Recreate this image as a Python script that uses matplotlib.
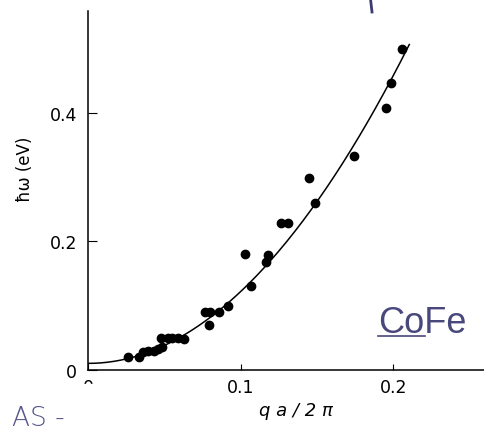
import matplotlib as mpl
import matplotlib.pyplot as plt
from matplotlib.lines import Line2D
from matplotlib.patches import Rectangle
import numpy as np

mpl.use('Agg')

# measured spin-wave points (qa/2pi, hbar omega in eV)
q_points = [0.026, 0.033, 0.036, 0.039, 0.043, 0.046, 0.0485, 0.048, 0.052,
            0.055, 0.059, 0.063, 0.0765, 0.080, 0.079, 0.0857, 0.0918,
            0.1028, 0.1065, 0.1163, 0.1177, 0.1264, 0.1312, 0.1449, 0.1487,
            0.1742, 0.195, 0.1985, 0.206]
e_points = [0.020, 0.020, 0.028, 0.030, 0.030, 0.032, 0.036, 0.050, 0.050,
            0.050, 0.050, 0.048, 0.090, 0.090, 0.070, 0.090, 0.100,
            0.180, 0.130, 0.168, 0.179, 0.229, 0.229, 0.298, 0.259,
            0.332, 0.408, 0.446, 0.499]

# quadratic dispersion drawn through the points: gap + stiffness * q^2
gap = 0.010
stiffness = 11.2
q_fit_max = 0.2105

x_ticks = [0, 0.1, 0.2]
x_ticklabels = ["0", "0.1", "0.2"]
y_ticks = [0, 0.2, 0.4]
y_ticklabels = ["0", "0.2", "0.4"]

W, H = 485, 431
fig = plt.figure(figsize=(W / 100, H / 100), dpi=100)
x0, x1, y0, y1 = 88.3, 485.0, 370.8, 12.0
ax = fig.add_axes([x0 / W, 1 - y0 / H, (x1 - x0) / W, (y0 - y1) / H])
ax.set_xlim(0, (x1 - x0) / 1525.0)
ax.set_ylim(0, (y0 - y1) / 642.5)

q_fit = np.linspace(0, q_fit_max, 200)
ax.plot(q_fit, gap + stiffness * q_fit ** 2, color='black', lw=1.1)
ax.plot(q_points, e_points, 'o', color='black', ms=6, mec='black')

for side in ['top', 'right']:
    ax.spines[side].set_visible(False)
for side in ['left', 'bottom']:
    ax.spines[side].set_linewidth(1.1)
ax.set_xticks(x_ticks)
ax.set_xticklabels(x_ticklabels)
ax.set_yticks(y_ticks)
ax.set_yticklabels(y_ticklabels)
ax.tick_params(axis='y', direction='in', length=6.5, width=0.8, pad=8,
               labelsize=12.5)
ax.tick_params(axis='x', direction='in', length=4, width=0.8, pad=6,
               labelsize=12.5)

fig.text(25 / W, 1 - 169 / H, "ħω (eV)", rotation=90, ha='center',
         va='center', fontsize=12)
fig.text(296 / W, 1 - 411 / H, "q a / 2 π", style='italic', ha='center',
         va='center', fontsize=13)

# lower half of the "0" tick label is lost in the scan
fig.add_artist(Rectangle((78 / W, 1 - 398 / H), 22 / W, 13 / H,
                         transform=fig.transFigure, color='white', zorder=10))

blue = '#48487c'
fig.text(378 / W, 1 - 333 / H, "CoFe", color=blue, fontsize=26,
         family='Liberation Sans', ha='left', va='baseline')
fig.add_artist(Line2D([378 / W, 425 / W], [1 - 337 / H, 1 - 337 / H],
                      transform=fig.transFigure, color=blue, lw=1.2))
fig.text(12 / W, 1 - 426 / H, "AS -", color='#55558a', fontsize=19,
         family='DejaVu Sans', fontweight='light', ha='left', va='baseline')
fig.add_artist(Line2D([370.5 / W, 372 / W], [1.0, 1 - 13 / H],
                      transform=fig.transFigure, color='#3c3c70', lw=2))

fig.savefig('out.png', dpi=100)
